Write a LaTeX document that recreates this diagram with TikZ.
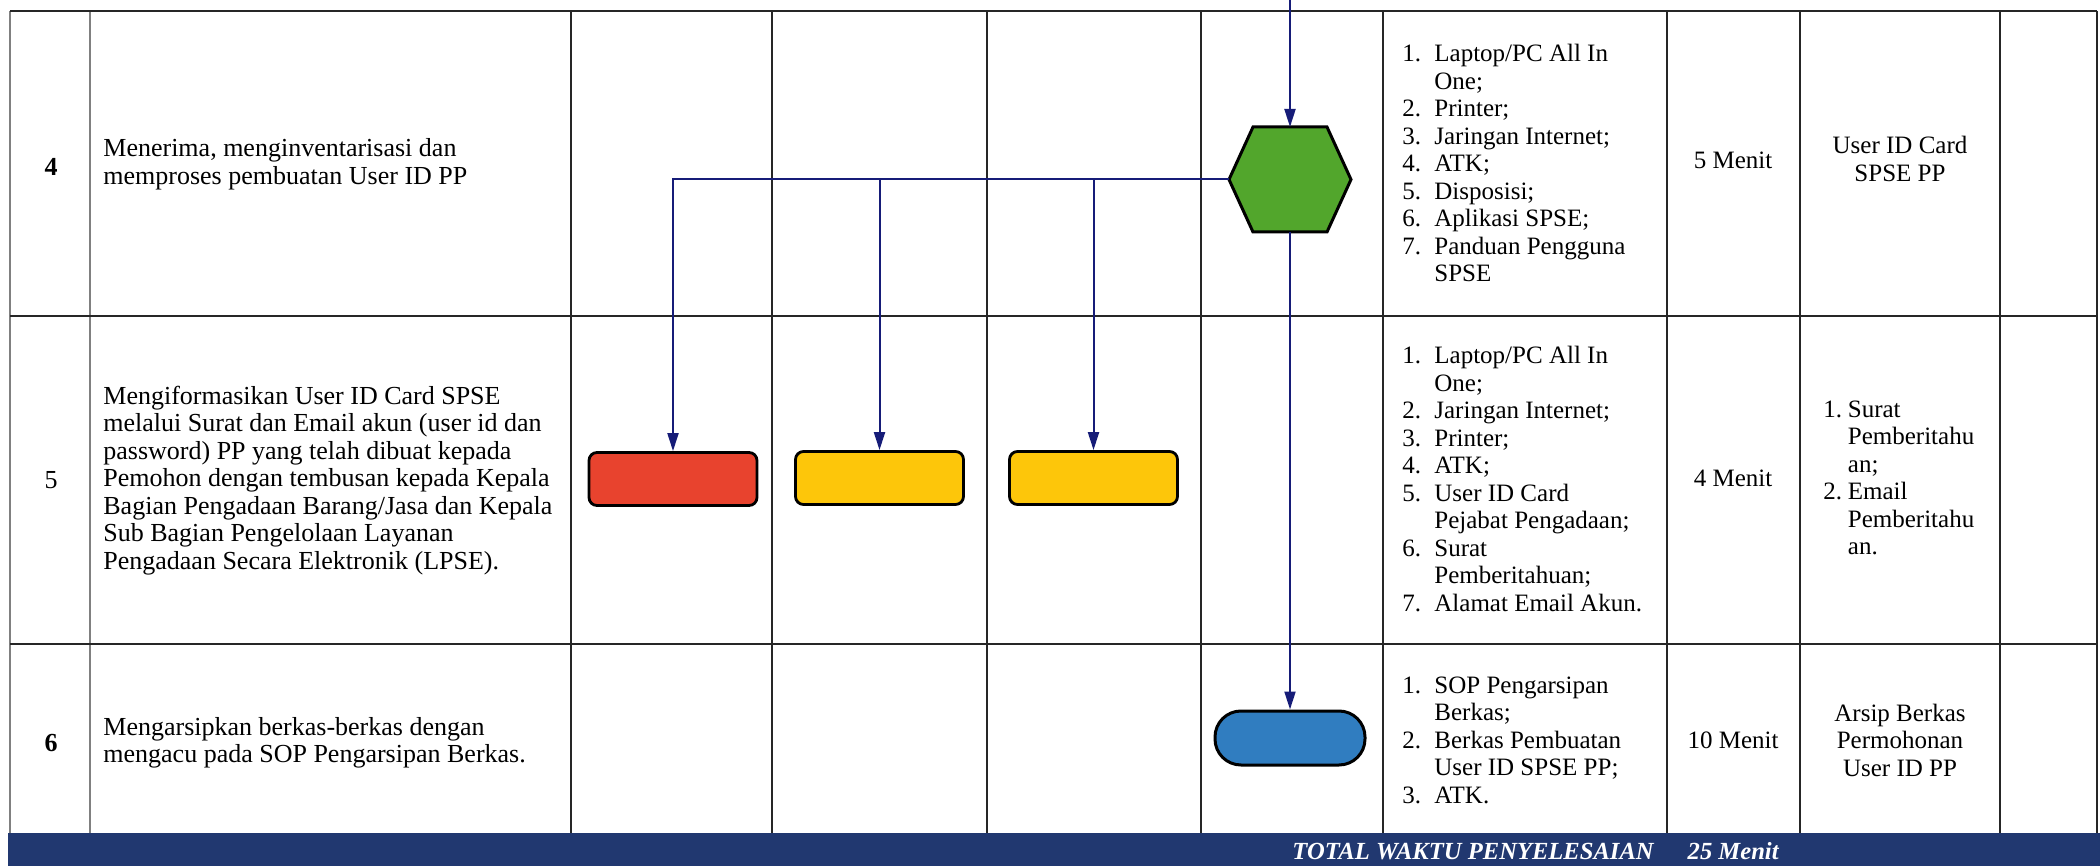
\documentclass[tikz,border=0pt]{standalone}
\usepackage{fontspec}
\setmainfont{Liberation Serif}
\usetikzlibrary{arrows.meta,shapes.geometric}

\definecolor{flownavy}{RGB}{22,28,120}
\definecolor{barblue}{RGB}{33,56,112}
\definecolor{redbox}{RGB}{232,67,46}
\definecolor{yellowbox}{RGB}{253,198,10}
\definecolor{greenhex}{RGB}{82,166,44}
\definecolor{bluebox}{RGB}{48,125,192}

\newcommand{\itm}[2]{\makebox[16pt][l]{#1}#2}
\newcommand{\cnt}[1]{\hspace*{16pt}#1}
\newcommand{\itmn}[2]{\makebox[12.25pt][l]{#1}#2}
\newcommand{\cntn}[1]{\hspace*{12.25pt}#1}

\begin{document}
\begin{tikzpicture}[x=0.5pt,y=-0.5pt,
  grid/.style={line width=0.8pt,black!85},
  faint/.style={line width=0.6pt,black!50},
  flow/.style={line width=1pt,flownavy,-{Triangle[length=9pt,width=5.5pt]}},
  procbox/.style={draw=black,line width=1.4pt,rounded corners=4pt,minimum width=84pt,minimum height=26.5pt,inner sep=0pt},
  lefttext/.style={anchor=west,align=left,inner sep=0pt,font=\fontsize{13}{13.75}\selectfont},
  listtext/.style={anchor=west,align=left,inner sep=0pt,font=\fontsize{12.5}{13.75}\selectfont},
  ctext/.style={align=center,inner sep=0pt,font=\fontsize{12.5}{13.75}\selectfont},
  numtext/.style={inner sep=0pt,font=\fontsize{13}{14}\selectfont},
  hexframe/.style={inner sep=0pt,outer sep=0pt,minimum width=61pt,minimum height=52.5pt}
]
\useasboundingbox (0,0) rectangle (2100,866);
\fill[white] (0,0) rectangle (2100,866);

% grid
\draw[faint] (10,11) -- (10,833);
\draw[faint] (90,11) -- (90,833);
\foreach \xx in {571,772,987,1201,1383,1667,1800,2000,2097}
  \draw[grid] (\xx,11) -- (\xx,833);
\foreach \yy in {11,316,644}
  \draw[grid] (10,\yy) -- (2097,\yy);

% bottom bar
\fill[barblue] (8,833) rectangle (2100,866);
\node[anchor=west,inner sep=0pt,text=white,font=\fontsize{12.3}{13}\selectfont\bfseries\itshape] (total) at (1292,851)
  {TOTAL WAKTU PENYELESAIAN\hspace{17pt}25 Menit};

% shapes
\node[hexframe] (hex) at (1290,179.5) {};
\filldraw[draw=black,line width=1.5pt,fill=greenhex,line join=miter]
  (hex.west) -- ([xshift=12pt]hex.north west) -- ([xshift=-12pt]hex.north east)
  -- (hex.east) -- ([xshift=-12pt]hex.south east) -- ([xshift=12pt]hex.south west) -- cycle;
\node[procbox,fill=redbox] (red) at (673,479) {};
\node[procbox,fill=yellowbox] (yela) at (879.5,478) {};
\node[procbox,fill=yellowbox] (yelb) at (1093.5,478) {};
\node[draw=black,line width=1.5pt,fill=bluebox,rounded corners=13pt,minimum width=75pt,minimum height=27pt,inner sep=0pt] (term) at (1290,738) {};

% connectors
\coordinate (topin) at (1290,0);
\draw[flow] (topin) -- (hex.north);
\draw[flow] (hex.west) -| (red.north);
\draw[flow] (hex.west) -| (yela.north);
\draw[flow] (hex.west) -| (yelb.north);
\draw[flow] (hex.south) -- (term.north);

% row numbers
\node[numtext,font=\fontsize{13}{14}\selectfont\bfseries] (n4) at (51,167) {4};
\node[numtext] (n5) at (51,480) {5};
\node[numtext,font=\fontsize{13}{14}\selectfont\bfseries] (n6) at (51,743) {6};

% activity texts
\node[lefttext] (t4) at (103,164) {Menerima, menginventarisasi dan\\memproses pembuatan User ID PP};
\node[lefttext] (t5) at (103,480.5) {Mengiformasikan User ID Card SPSE\\melalui Surat dan Email akun (user id dan\\password) PP yang telah dibuat kepada\\Pemohon dengan tembusan kepada Kepala\\Bagian Pengadaan Barang/Jasa dan Kepala\\Sub Bagian Pengelolaan Layanan\\Pengadaan Secara Elektronik (LPSE).};
\node[lefttext] (t6) at (103,743) {Mengarsipkan berkas-berkas dengan\\mengacu pada SOP Pengarsipan Berkas.};

% kelengkapan
\node[listtext] (k4) at (1402,163) {\itm{1.}{Laptop/PC All In}\\\cnt{One;}\\\itm{2.}{Printer;}\\\itm{3.}{Jaringan Internet;}\\\itm{4.}{ATK;}\\\itm{5.}{Disposisi;}\\\itm{6.}{Aplikasi SPSE;}\\\itm{7.}{Panduan Pengguna}\\\cnt{SPSE}};
\node[listtext] (k5) at (1402,479) {\itm{1.}{Laptop/PC All In}\\\cnt{One;}\\\itm{2.}{Jaringan Internet;}\\\itm{3.}{Printer;}\\\itm{4.}{ATK;}\\\itm{5.}{User ID Card}\\\cnt{Pejabat Pengadaan;}\\\itm{6.}{Surat}\\\cnt{Pemberitahuan;}\\\itm{7.}{Alamat Email Akun.}};
\node[listtext] (k6) at (1402,740) {\itm{1.}{SOP Pengarsipan}\\\cnt{Berkas;}\\\itm{2.}{Berkas Pembuatan}\\\cnt{User ID SPSE PP;}\\\itm{3.}{ATK.}};

% waktu
\node[ctext] (w4) at (1733,160) {5 Menit};
\node[ctext] (w5) at (1733,478) {4 Menit};
\node[ctext] (w6) at (1733,740) {10 Menit};

% output
\node[ctext] (o4) at (1900,159) {User ID Card\\SPSE PP};
\node[listtext] (o5) at (1823,478) {\itmn{1.}{Surat}\\\cntn{Pemberitahu}\\\cntn{an;}\\\itmn{2.}{Email}\\\cntn{Pemberitahu}\\\cntn{an.}};
\node[ctext] (o6) at (1900,740) {Arsip Berkas\\Permohonan\\User ID PP};
\end{tikzpicture}
\end{document}
